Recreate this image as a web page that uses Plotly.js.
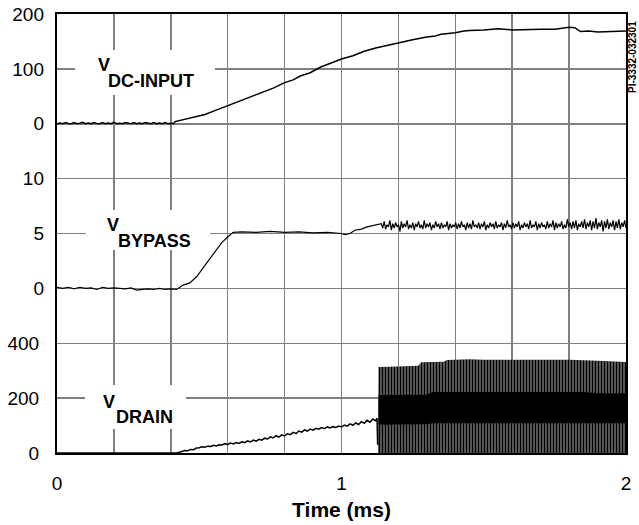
<!DOCTYPE html>
<html><head><meta charset="utf-8">
<script src="https://cdn.plot.ly/plotly-3.0.1.min.js"></script>
<style>html,body{margin:0;padding:0;background:#fff}</style>
</head><body><div id="chart" style="width:639px;height:525px"></div>
<script>
// ---------- data ----------
const xTickVals = [0, 0.2, 0.4, 0.6, 0.8, 1, 1.2, 1.4, 1.6, 1.8, 2];
const xTickText = ['0', '', '', '', '', '1', '', '', '', '', '2'];

const drainTickVals = [0, 200, 400, 600, 800, 1000, 1200, 1400, 1600];
const drainTickText = ['0', '200', '400', '', '', '', '', '', ''];
const bypassTickVals = [0, 5, 10];
const dcTickVals = [0, 100, 200];

// V DC-INPUT
const dcFlatStart = 0, dcFlatStep = 0.01;
const dcFlatV = [0,1.5,0,2,0.5,0,2,0,1,2.5,0,1.5,0,2,0.5,0,2,0,1.5,0,2.5,0,1,0,2,0.5,0,2,0,1.5,0,2,0.5,0,2,0,1.5,0,2,0,1,0];
const dcRiseT = [0.415,0.44,0.46,0.48,0.5,0.52,0.555,0.58,0.6,0.63,0.66,0.68,0.72,0.76,0.8,0.83,0.855,0.89,0.925,0.95,0.98,1.0,1.04,1.08,1.12,1.16,1.2,1.25,1.3,1.33,1.35,1.38,1.4,1.43,1.45,1.5,1.55,1.6,1.65,1.7,1.75,1.78,1.8,1.82,1.84,1.87,1.9,1.95,2.0];
const dcRiseV = [4,7,9,12,15,17,24,29,33,39,46,50,57,65,75,80,87,93,103,108,113,118,124,132,138,143,148,153,158,160,163,164,166,169,170,171,173,171,172,172,172,174,176,175,168,169,167,168,169];

// V BYPASS
const bpFlatStart = 0, bpFlatStep = 0.02;
const bpFlatV = [0.1,0,0.1,-0.05,0.1,0,0.05,-0.1,0.1,0,0.05,0,-0.05,0.05,-0.15,-0.1,-0.05,-0.1,0,-0.1,-0.05,-0.1];
const bpRiseT = [0.443,0.467,0.492,0.52,0.548,0.58,0.601,0.619,0.65,0.7,0.75,0.8,0.85,0.9,0.95,1.0,1.012,1.03,1.047,1.07,1.09,1.107,1.12,1.135];
const bpRiseV = [0.3,0.5,1.1,2.1,3.1,4.2,4.7,5.1,5.15,5.1,5.2,5.1,5.15,5.05,5.1,5.0,4.9,5.0,5.3,5.4,5.6,5.7,5.8,5.9];
const bpNoiseStart = 1.14;
const bpNoiseV = [
  5.9,5.5,6.1,5.4,5.8,5.6,6.2,5.3,5.9,5.5, 6.0,5.6,5.8,5.2,6.1,5.5,5.9,5.6,6.2,5.4,
  5.8,5.5,6.0,5.3,5.9,5.6,6.1,5.5,5.8,5.4, 6.2,5.5,5.9,5.6,6.0,5.3,5.8,5.5,6.1,5.6,
  5.9,5.4,6.0,5.5,5.8,5.6,6.1,5.3,5.9,5.5, 5.8,5.6,6.0,5.4,5.9,5.5,6.1,5.6,5.8,5.3,
  6.0,5.5,5.9,5.4,6.2,5.6,5.8,5.5,6.0,5.4, 5.9,5.6,6.1,5.3,5.8,5.5,6.0,5.6,5.9,5.4,
  6.1,5.5,5.8,5.6,6.0,5.3,5.9,5.5,6.2,5.6, 5.8,5.4,6.0,5.5,5.9,5.6,6.1,5.3,5.8,5.5,
  6.0,5.6,5.9,5.4,6.2,5.5,5.8,5.6,6.1,5.3, 5.9,5.5,6.0,5.6,5.8,5.4,6.1,5.5,5.9,5.6,
  6.2,5.3,6.0,5.5,5.9,5.6,6.1,5.4,5.8,5.5, 6.3,5.6,6.0,5.4,6.1,5.5,6.2,5.3,5.9,5.6,
  6.1,5.5,6.3,5.4,6.0,5.6,6.2,5.3,6.1,5.5, 6.4,5.4,6.0,5.6,6.2,5.2,6.1,5.5,6.3,5.4,
  6.0,5.6,6.2,5.3,6.1,5.5,6.3,5.4,6.0,5.6, 6.2,5.5];

// V DRAIN
const drT = [0,0.42,0.43,0.44,0.45,0.46,0.47,0.48,0.49,0.5,0.51,0.52,0.53,0.54,0.55,0.56,0.57,0.58,0.59,0.6,0.61,0.62,0.63,0.64,0.65,0.66,0.67,0.68,0.69,0.7,0.71,0.72,0.73,0.74,0.75,0.76,0.77,0.78,0.79,0.8,0.81,0.82,0.83,0.84,0.85,0.86,0.87,0.88,0.89,0.9,0.91,0.92,0.93,0.94,0.95,0.96,0.97,0.98,0.99,1.0,1.01,1.02,1.03,1.04,1.05,1.06,1.07,1.08,1.09,1.1,1.11,1.12,1.125,1.127];
const drV = [0,0,3,5,9,8,13,12,18,19,23,21,25,24,28,26,30,29,34,31,36,33,38,35,41,38,44,40,47,43,50,47,54,51,59,55,63,58,66,62,70,67,75,71,80,76,84,80,87,83,90,87,93,89,95,91,96,93,98,95,102,98,106,101,110,104,114,108,119,112,124,118,127,30];
// switching envelope (peak) and dense core band
const swT = [1.128,1.13,1.2,1.27,1.28,1.36,1.37,1.45,1.5,1.6,1.7,1.8,1.9,2.0];
const swPeak = [0,313,315,318,331,333,339,342,340,340,338,340,336,332];
const bandT = [1.13,1.3,1.32,1.85,1.9,2.0];
const bandTop = [211,212,222,222,218,218];
const bandBot = [103,105,108,108,108,108];

// ---------- build ----------
const grid = (start, step, n) => Array.from({length: n}, (_, i) => +(start + i * step).toFixed(4));
const dcT = grid(dcFlatStart, dcFlatStep, dcFlatV.length).concat(dcRiseT);
const dcV = dcFlatV.concat(dcRiseV);
const bpT = grid(bpFlatStart, bpFlatStep, bpFlatV.length).concat(bpRiseT, grid(bpNoiseStart, (2 - bpNoiseStart) / (bpNoiseV.length - 1), bpNoiseV.length));
const bpV = bpFlatV.concat(bpRiseV, bpNoiseV);
const bandX = bandT.concat(bandT.slice().reverse());
const bandY = bandTop.concat(bandBot.slice().reverse());

const lineStyle = {color: '#000', width: 1.5};
const traces = [
  {x: dcT, y: dcV, yaxis: 'y3', mode: 'lines', line: lineStyle, hoverinfo: 'skip'},
  {x: bpT, y: bpV, yaxis: 'y2', mode: 'lines', line: {color: '#000', width: 1.2}, hoverinfo: 'skip'},
  {x: swT, y: swPeak, yaxis: 'y', mode: 'lines', line: {width: 0, color: '#000'}, fill: 'tozeroy',
   fillcolor: '#000', fillpattern: {shape: '|', size: 3, solidity: 0.78, fgcolor: '#000', bgcolor: '#fff', fillmode: 'replace'}, hoverinfo: 'skip'},
  {x: bandX, y: bandY, yaxis: 'y', mode: 'lines', line: {width: 0, color: '#000'}, fill: 'toself', fillcolor: '#000', hoverinfo: 'skip'},
  {x: drT, y: drV, yaxis: 'y', mode: 'lines', line: lineStyle, hoverinfo: 'skip'}
];

const font = {family: 'Liberation Sans, Arial, Helvetica, sans-serif', color: '#000'};
const tickFont = Object.assign({}, font, {size: 19});
const yCommon = {showline: false, zeroline: false, ticks: '', tickfont: tickFont, ticklabelstandoff: 12, fixedrange: true};

const lab = (x, y, text) => ({xref: 'paper', yref: 'paper', x: x, y: y, xanchor: 'left', yanchor: 'middle',
  text: '<b>' + text + '</b>', showarrow: false, font: Object.assign({}, font, {size: 18})});
const px = v => (v - 57) / 569, py = v => (453 - v) / 439;
const box = (x0, x1, y0, y1) => ({type: 'rect', xref: 'paper', yref: 'paper', x0: px(x0), x1: px(x1), y0: py(y1), y1: py(y0),
  fillcolor: '#fff', line: {width: 0}, layer: 'above'});

const layout = {
  width: 639, height: 525,
  margin: {l: 57, r: 13, t: 14, b: 72},
  paper_bgcolor: '#fff', plot_bgcolor: '#fff',
  showlegend: false,
  xaxis: {range: [0, 2], tickvals: xTickVals, ticktext: xTickText, showgrid: true, gridcolor: '#808080', gridwidth: 1.5,
    zeroline: false, showline: true, linecolor: '#000', linewidth: 2, mirror: true, ticks: '',
    tickfont: tickFont, ticklabelstandoff: 12, fixedrange: true,
    title: {text: '<b>Time (ms)</b>', font: Object.assign({}, font, {size: 21}), standoff: 10}},
  yaxis: Object.assign({}, yCommon, {range: [0, 1600], tickvals: drainTickVals, ticktext: drainTickText,
    showgrid: true, gridcolor: '#808080', gridwidth: 1.5, showline: true, linecolor: '#000', linewidth: 2, mirror: true}),
  yaxis2: Object.assign({}, yCommon, {range: [-15, 25], tickvals: bypassTickVals, overlaying: 'y', side: 'left', showgrid: false}),
  yaxis3: Object.assign({}, yCommon, {range: [-600, 200], tickvals: dcTickVals, overlaying: 'y', side: 'left', showgrid: false}),
  shapes: [box(75, 215, 50, 95), box(86, 210, 210, 250), box(85, 186, 385, 429)],
  annotations: [
    lab(px(96), py(65), 'V'), lab(px(106), py(81), 'DC-INPUT'),
    lab(px(105), py(225), 'V'), lab(px(116), py(240.5), 'BYPASS'),
    lab(px(101), py(401.5), 'V'), lab(px(114), py(417), 'DRAIN'),
    {xref: 'paper', yref: 'paper', x: px(632), y: py(57), xanchor: 'center', yanchor: 'middle', textangle: -90,
     text: '<b>PI-3332-032301</b>', showarrow: false, font: Object.assign({}, font, {size: 10})}
  ]
};

Plotly.newPlot('chart', traces, layout, {staticPlot: true, displayModeBar: false});
</script></body></html>
